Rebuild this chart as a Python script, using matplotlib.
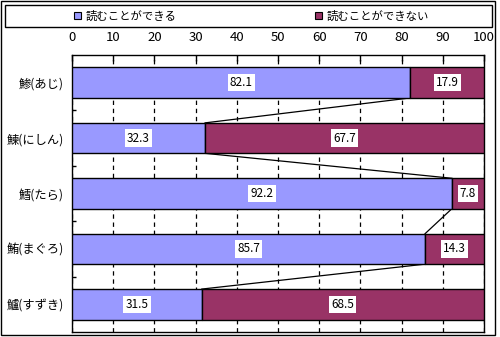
import matplotlib
matplotlib.use("Agg")
import matplotlib.pyplot as plt
from matplotlib.patches import Rectangle, Patch
import numpy as np

plt.rcParams['font.family'] = ['Noto Sans CJK JP', 'DejaVu Sans']

categories = ["鯵(あじ)", "鰊(にしん)", "鱈(たら)", "鮪(まぐろ)", "鱸(すずき)"]
can_read = [82.1, 32.3, 92.2, 85.7, 31.5]
cannot_read = [17.9, 67.7, 7.8, 14.3, 68.5]
series_names = ["読むことができる", "読むことができない"]
x_ticks = [0, 10, 20, 30, 40, 50, 60, 70, 80, 90, 100]

c_blue = "#9999FF"
c_maroon = "#993366"

W, H = 500, 337
fig = plt.figure(figsize=(W / 100, H / 100), dpi=100)

# outer frame and legend box
fig.patches.append(Rectangle((1 / W, 1 - 335 / H), 494 / W, 334 / H, transform=fig.transFigure,
                             fill=False, edgecolor="black", linewidth=1))
fig.patches.append(Rectangle((5 / W, 1 - 27 / H), 487 / W, 22 / H, transform=fig.transFigure,
                             fill=False, edgecolor="black", linewidth=1))

ax = fig.add_axes([72 / W, 1 - 332 / H, 412 / W, 277 / H])

y = np.arange(len(categories))
bh = 0.55
ax.barh(y, can_read, height=bh, color=c_blue, edgecolor="black", linewidth=1, zorder=3)
ax.barh(y, cannot_read, left=can_read, height=bh, color=c_maroon, edgecolor="black",
        linewidth=1, zorder=3)

# series lines joining segment boundaries
for i in range(len(categories) - 1):
    ax.plot([can_read[i], can_read[i + 1]], [i + bh / 2, i + 1 - bh / 2],
            color="black", linewidth=0.9, zorder=2)

# value labels
box = dict(boxstyle="square,pad=0.18", facecolor="white", edgecolor="none")
for i in range(len(categories)):
    ax.text(can_read[i] / 2, i, f"{can_read[i]:.1f}", ha="center", va="center",
            fontsize=8.5, bbox=box, zorder=4)
    ax.text(can_read[i] + cannot_read[i] / 2, i, f"{cannot_read[i]:.1f}", ha="center",
            va="center", fontsize=8.5, bbox=box, zorder=4)

ax.set_xlim(0, 100)
ax.set_ylim(len(categories) - 0.5, -0.5)
ax.set_xticks(x_ticks)
ax.xaxis.tick_top()
ax.tick_params(axis="x", direction="in", length=4, width=1, labelsize=9.5, pad=8)
ax.set_yticks(y)
ax.set_yticklabels(categories, fontsize=8.8)
ax.tick_params(axis="y", which="major", length=0, pad=6)
ax.set_yticks(np.arange(len(categories) - 1) + 0.5, minor=True)
ax.tick_params(axis="y", which="minor", direction="in", length=3, width=1)
ax.grid(axis="x", color="black", linestyle=(0, (3.5, 3)), linewidth=0.9, zorder=1)
for s in ax.spines.values():
    s.set_linewidth(1)

handles = [Patch(facecolor=c_blue, edgecolor="black", linewidth=0.8),
           Patch(facecolor=c_maroon, edgecolor="black", linewidth=0.8)]
fig.legend(handles, series_names, loc="center left", bbox_to_anchor=(74 / W, 1 - 16 / H),
           ncol=2, frameon=False, fontsize=8.2, handlelength=0.6, handleheight=0.6,
           handletextpad=0.4, columnspacing=12.2, borderaxespad=0, borderpad=0)

fig.savefig("out.png", dpi=100)
